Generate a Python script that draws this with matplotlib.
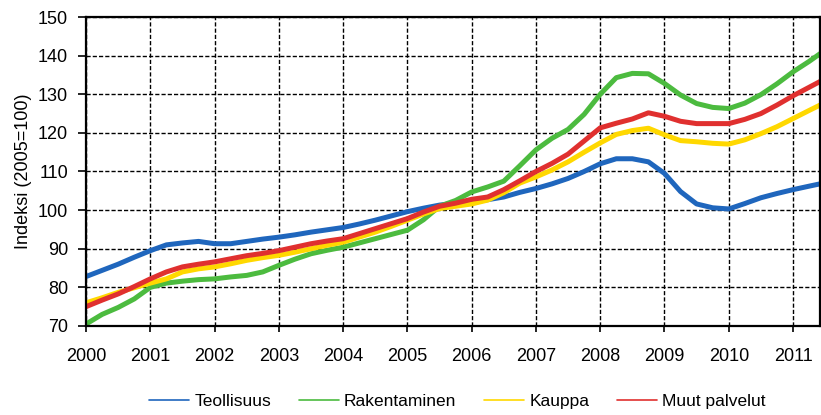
import matplotlib
matplotlib.use("Agg")
import matplotlib.pyplot as plt
import numpy as np

# quarterly readings, last point = end of data (around May 2011)
years = list(np.arange(2000, 2011.26, 0.25)) + [2011.42]

teollisuus = [82.8, 84.4, 86.0, 87.8, 89.5, 91.0, 91.5, 91.9, 91.3, 91.3, 91.9, 92.5,
              93.0, 93.6, 94.3, 94.9, 95.5, 96.4, 97.4, 98.5, 99.6, 100.5, 101.3, 101.8,
              102.2, 102.7, 103.4, 104.6, 105.6, 106.8, 108.2, 110.0, 112.0, 113.3, 113.3, 112.5,
              109.5, 104.8, 101.6, 100.6, 100.3, 101.7, 103.2, 104.3, 105.3, 106.2, 106.8]
rakentaminen = [70.5, 73.0, 74.8, 77.0, 80.0, 81.1, 81.6, 82.0, 82.2, 82.7, 83.1, 84.0,
                85.7, 87.3, 88.7, 89.6, 90.4, 91.5, 92.6, 93.7, 94.8, 97.5, 101.0, 102.5,
                104.7, 106.0, 107.5, 111.5, 115.6, 118.6, 120.9, 124.8, 130.0, 134.3, 135.4, 135.3,
                132.8, 129.8, 127.6, 126.6, 126.3, 127.7, 129.9, 132.7, 135.8, 138.5, 140.5]
kauppa = [76.0, 77.3, 78.7, 79.9, 81.1, 82.2, 84.0, 84.8, 85.3, 86.1, 87.0, 87.7,
          88.3, 89.1, 90.0, 90.9, 91.7, 93.0, 94.3, 95.8, 97.4, 99.0, 100.4, 101.0,
          101.6, 102.6, 104.5, 107.0, 108.6, 110.4, 112.5, 115.0, 117.4, 119.6, 120.6, 121.2,
          119.5, 118.0, 117.7, 117.3, 117.1, 118.2, 119.8, 121.6, 123.7, 125.8, 127.2]
muut_palvelut = [75.0, 76.7, 78.3, 80.2, 82.2, 84.0, 85.3, 86.0, 86.6, 87.4, 88.2, 88.8,
                 89.5, 90.4, 91.3, 92.0, 92.6, 93.9, 95.2, 96.5, 97.8, 99.5, 101.0, 101.8,
                 102.8, 103.4, 105.3, 107.6, 110.0, 112.1, 114.5, 117.9, 121.3, 122.5, 123.6, 125.2,
                 124.3, 123.0, 122.4, 122.4, 122.4, 123.5, 125.0, 127.2, 129.6, 131.8, 133.3]

series = [("Teollisuus", teollisuus, "#1f66bd"),
          ("Rakentaminen", rakentaminen, "#4cbb3f"),
          ("Kauppa", kauppa, "#ffd800"),
          ("Muut palvelut", muut_palvelut, "#e0302f")]

year_ticks = list(range(2000, 2012))
y_ticks = list(range(70, 151, 10))

plt.rcParams['font.family'] = ['Liberation Sans', 'DejaVu Sans']

fig = plt.figure(figsize=(8.21, 4.15), dpi=100)
ax = fig.add_axes([0.1048, 0.2145, 0.894, 0.7445])

for name, vals, col in series:
    ax.plot(years, vals, color=col, lw=3.6, label=name, solid_capstyle='round')

ax.set_xlim(2000, 2011.42)
ax.set_ylim(70, 150)
ax.set_xticks(year_ticks)
ax.set_xticklabels([str(y) for y in year_ticks])
ax.set_yticks(y_ticks)
ax.tick_params(axis='y', direction='out', length=6, width=1.2, pad=7, labelsize=13)
ax.tick_params(axis='x', direction='out', length=4, width=1.2, pad=12, labelsize=13)
ax.grid(True, color='black', lw=1.0, linestyle=(0, (3, 1.5)))
for s in ax.spines.values():
    s.set_linewidth(1.6)
    s.set_color('black')
ax.set_ylabel("Indeksi (2005=100)", fontsize=13, labelpad=4)

leg = ax.legend(loc='upper center', bbox_to_anchor=(0.506, -0.17), ncol=4, frameon=False,
                fontsize=12.5, handlelength=2.3, columnspacing=1.6, handletextpad=0.3)
for h in leg.get_lines():
    h.set_linewidth(1.2)

fig.savefig("out.png", dpi=100)
